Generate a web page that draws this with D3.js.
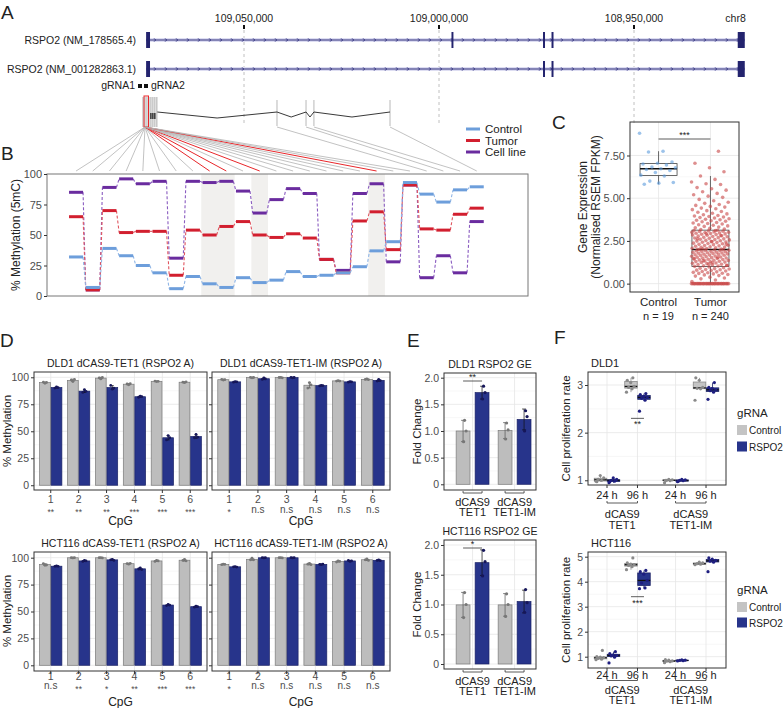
<!DOCTYPE html>
<html>
<head>
<meta charset="utf-8">
<script src="https://cdn.jsdelivr.net/npm/d3@7"></script>
<style>
  body { margin: 0; background: #fff; }
  svg { font-family: "Liberation Sans", Arial, sans-serif; }
</style>
</head>
<body>
<div id="fig"></div>
<script>
// ---------------- data ----------------
// A: gene tracks (genomic coordinates, bp)
const genomeTicks = [109050000, 109000000, 108950000];
const trackNames = ["RSPO2 (NM_178565.4)", "RSPO2 (NM_001282863.1)"];
const trackSpan = [109075100, 108921600];
const exons1 = [[109075100, 109074100], [108996800, 108996300], [108973330, 108972820], [108971150, 108970640], [108923400, 108921600]];
const exons2 = [[109075100, 109074100], [108973330, 108972820], [108971150, 108970640], [108923400, 108921600]];

// B: % methylation per CpG
const cpgControl  = [32, 7, 39, 33, 25, 19, 6, 16, 10, 7, 15, 11, 13, 20, 16, 17, 19, 24, 37, 44.5, 93, 83.5, 77, 87, 89.5];
const cpgTumor    = [65, 5, 70, 52, 53, 53, 17, 54, 50, 57, 61, 50, 48, 51, 47.5, 30, 19, 61.5, 69, 38, 91, 55, 54, 67, 72];
const cpgCellLine = [85, 5, 89, 96, 92, 94, 31, 94, 93, 94, 86, 68, 79, 88, 84, 30, 21, 84, 92, 28, 91, 15, 33, 19, 61];
const cpgHighlight = [9, 10, 12, 19];           // 1-based CpG numbers
const cpgExon = [0,0,0,0,0,0,0,0,0,0,0,0,0,0,0,0,0,0,0,0,0,1,2,3,4]; // schematic exon of each CpG

// C: expression
const exprControl = [8.8, 7.75, 7.7, 7.12, 7.05, 7.0, 6.95, 6.82, 6.78, 6.72, 6.68, 6.62, 6.5, 6.35, 6.3, 6.0, 5.92, 5.88, 5.82];
const exprTumor = [
  0,0,0,0,0,0,0,0,0,0, 0,0,0,0,0,0,0,0,0,0, 0,0,0,0,0,0,0,0,0,0, 0,0,0,0,
  0.12,0.21,0.28,0.33,0.38,0.44,0.47,0.51,0.53,0.57,0.6,0.61,0.64,0.66,0.69,0.71,0.74,0.77,0.79,0.81,0.83,0.86,0.88,0.9,0.93,0.97,
  1.01,1.03,1.04,1.08,1.1,1.11,1.13,1.17,1.19,1.21,1.24,1.26,1.28,1.29,1.31,1.33,1.36,1.37,1.39,1.41,
  1.43,1.45,1.47,1.49,1.5,1.52,1.55,1.56,1.58,1.6,1.61,1.64,1.66,1.67,1.69,1.71,1.72,1.74,1.76,1.78,
  1.79,1.81,1.83,1.84,1.86,1.87,1.89,1.91,1.92,1.94,1.95,1.97,1.98,1.99,1.14,1.46,1.53,1.34,1.06,1.22,
  2.01,2.03,2.05,2.07,2.1,2.12,2.14,2.16,2.19,2.21,2.23,2.25,2.28,2.3,2.33,2.35,2.37,2.4,2.42,2.44,
  2.46,2.49,2.51,2.53,2.56,2.58,2.6,2.62,2.65,2.67,2.69,2.71,2.74,2.76,2.78,2.8,2.83,2.85,2.87,2.89,
  2.91,2.93,2.95,2.97,2.99,3.01,3.03,3.05,3.07,3.09,3.11,3.12,2.04,2.31,2.47,2.63,2.81,2.92,3.0,3.1,
  3.16,3.2,3.24,3.27,3.31,3.35,3.38,3.42,3.45,3.49,3.52,3.55,3.58,3.62,3.65,3.68,3.71,3.74,3.77,3.8,3.84,3.87,3.9,3.93,3.96,3.99,
  4.03,4.08,4.12,4.18,4.22,4.27,4.33,4.38,4.42,4.48,4.52,4.58,4.63,4.7,4.76,4.85,4.93,
  5.05,5.12,5.2,5.28,5.38,5.47,5.55,5.62,5.8,5.85,5.95,6.1,6.3,
  6.55,6.78,7.05,7.75
];

// D: % methylation, 3 replicates per CpG (1..6)
const cpgNums = [1, 2, 3, 4, 5, 6];
const dldTetCtrl = [[95.5,94.5,95.2],[97.5,96,98],[99.5,98.5,99.8],[93.8,93,94],[96.5,96,96.3],[95.5,95,95.8]];
const dldTetRspo = [[90,91,90.5],[86,88.5,87],[92.5,89,90],[81.5,82.5,82],[42,46,44],[44,47,44.5]];
const dldTetSig  = ["**","**","**","***","***","***"];
const dldImCtrl  = [[98,97.5,97.8],[100,99.5,99.8],[99.8,100,99.5],[90,95,93],[96.5,97,96.5],[98,98.5,97.8]];
const dldImRspo  = [[95.5,96,95.8],[98,99.5,98.5],[100,99.5,99.8],[92,92.5,92.3],[95.5,96,95.8],[96.5,98,97]];
const dldImSig   = ["*","n.s","n.s","n.s","n.s","n.s"];
const hctTetCtrl = [[94.5,93,93.2],[100,99.8,100],[100,100,99.8],[94.5,94,94.8],[96.5,97.5,97],[97.5,98.5,97]];
const hctTetRspo = [[92,92.3,92],[96.5,97.5,97],[98,98.5,97.5],[89.5,90.5,89],[55.5,56.5,56],[54,55,54.5]];
const hctTetSig  = ["n.s","**","*","**","***","***"];
const hctImCtrl  = [[93.5,94,93.8],[98,99.5,98],[100,100,99.8],[94,94.8,93.5],[96,97,96.5],[98,98.8,97.5]];
const hctImRspo  = [[91.5,91.8,91.3],[100,99.8,100],[100,99.8,100],[93.8,93.5,94],[97.5,96.5,97],[97.5,98,97.2]];
const hctImSig   = ["*","n.s","n.s","n.s","n.s","n.s"];

// E: fold change, 3 replicates (dCAS9-TET1, dCAS9-TET1-IM)
const constructs = ["TET1", "TET1-IM"];
const dldGeCtrl = [[1.2, 1.0, 0.8], [1.15, 1.02, 0.85]];
const dldGeRspo = [[1.84, 1.72, 1.6], [1.38, 1.27, 1.0]];
const hctGeCtrl = [[1.2, 1.0, 0.78], [1.18, 1.0, 0.8]];
const hctGeRspo = [[1.91, 1.72, 1.48], [1.25, 1.03, 0.87]];

// F: cell proliferation rate (groups: 24 h / 96 h for TET1, then TET1-IM)
const timeLabels = ["24 h", "96 h", "24 h", "96 h"];
const dldProCtrl = [[0.98,1.0,1.02,1.05,1.1,0.97],[2.85,2.92,2.95,2.97,3.05,3.1,3.15],[0.95,0.99,1.0,1.01,1.02,1.0],[2.68,2.92,2.93,2.95,3.1,3.15]];
const dldProRspo = [[0.95,0.98,1.0,1.02,1.05,0.97,1.0],[2.45,2.68,2.72,2.74,2.76,2.8,2.82],[0.97,0.99,1.0,1.01,1.02,0.98],[2.7,2.85,2.88,2.9,2.93,2.95,3.05]];
const hctProCtrl = [[0.88,0.9,0.93,0.96,0.98,1.0,1.25],[4.48,4.6,4.65,4.68,4.7,4.75,4.95],[0.76,0.8,0.82,0.83,0.86,0.88],[4.68,4.7,4.72,4.75,4.78]];
const hctProRspo = [[0.75,0.98,1.03,1.05,1.07,1.12,1.2],[3.72,3.75,3.95,4.05,4.3,4.4,4.45],[0.83,0.84,0.85,0.86,0.87],[4.4,4.78,4.82,4.85,4.9,4.95]];

// ---------------- helpers ----------------
const GRAY = "#bdbdbd", BLUE = "#27348b";
const svg = d3.select("#fig").append("svg").attr("width", 784).attr("height", 708);

function txt(g, x, y, s, size, anchor, color) {
  return g.append("text").attr("x", x).attr("y", y).text(s)
    .style("font-size", size + "px").attr("text-anchor", anchor || "start")
    .attr("fill", color || "#222");
}
function vlabel(g, x, y, s, size) {
  return g.append("text").attr("transform", `translate(${x},${y}) rotate(-90)`)
    .attr("text-anchor", "middle").style("font-size", size + "px").attr("fill", "#222").text(s);
}
function styleAxis(sel, size) {
  sel.select(".domain").remove();
  sel.selectAll(".tick line").attr("stroke", "#333");
  sel.selectAll(".tick text").attr("fill", "#4d4d4d").style("font-size", size + "px");
}
function grid(g, x, y, yTicks, xTicks) {
  const [x0, x1] = x.range(), [y0, y1] = y.range();
  const mids = d3.pairs(yTicks).map(p => (p[0] + p[1]) / 2);
  g.selectAll(null).data(mids).join("line")
    .attr("x1", x0).attr("x2", x1).attr("y1", d => y(d)).attr("y2", d => y(d))
    .attr("stroke", "#f2f2f2").attr("stroke-width", 0.6);
  g.selectAll(null).data(yTicks).join("line")
    .attr("x1", x0).attr("x2", x1).attr("y1", d => y(d)).attr("y2", d => y(d))
    .attr("stroke", "#e6e6e6").attr("stroke-width", 0.8);
  if (xTicks) g.selectAll(null).data(xTicks).join("line")
    .attr("x1", d => d).attr("x2", d => d).attr("y1", y0).attr("y2", y1)
    .attr("stroke", "#e6e6e6").attr("stroke-width", 0.8);
}
function frame(g, x, y, color) {
  const [x0, x1] = x.range(), [y0, y1] = y.range();
  g.append("rect").attr("x", x0).attr("y", y1).attr("width", x1 - x0).attr("height", y0 - y1)
    .attr("fill", "none").attr("stroke", color || "#333").attr("stroke-width", 1);
}

// ---------------- A: gene tracks ----------------
const gA = svg.append("g");
txt(gA, 1, 19, "A", 19);
const gx = d3.scaleLinear().domain([109050000, 108950000]).range([244, 634]);
genomeTicks.forEach(t => {
  txt(gA, gx(t), 22, d3.format(",")(t), 10.5, "middle");
  gA.append("rect").attr("x", gx(t) - 1).attr("y", 25).attr("width", 2).attr("height", 4).attr("fill", "#111");
  gA.append("line").attr("x1", gx(t)).attr("x2", gx(t)).attr("y1", 30).attr("y2", 126)
    .attr("stroke", "#b0b0b0").attr("stroke-dasharray", "3,3").attr("stroke-width", 0.8);
});
txt(gA, gx(trackSpan[1]) + 1, 22, "chr8", 10.5, "end");

[exons1, exons2].forEach((ex, k) => {
  const yy = [40, 69][k];
  txt(gA, 136, yy + 3.5, trackNames[k], 10.5, "end");
  gA.append("rect").attr("x", gx(trackSpan[0])).attr("y", yy - 2)
    .attr("width", gx(trackSpan[1]) - gx(trackSpan[0])).attr("height", 4).attr("fill", "#dedef2");
  gA.append("line").attr("x1", gx(trackSpan[0])).attr("x2", gx(trackSpan[1])).attr("y1", yy).attr("y2", yy)
    .attr("stroke", "#2b2b7a").attr("stroke-width", 1.1);
  gA.selectAll(null).data(d3.range(gx(trackSpan[0]) + 9, gx(trackSpan[1]) - 4, 11)).join("path")
    .attr("d", d => `M${d - 1},${yy - 1.6}L${d + 0.6},${yy}L${d - 1},${yy + 1.6}`)
    .attr("fill", "none").attr("stroke", "#2b2b7a").attr("stroke-width", 0.9);
  gA.selectAll(null).data(ex).join("rect")
    .attr("x", d => gx(d[0])).attr("width", d => Math.max(1.6, gx(d[1]) - gx(d[0])))
    .attr("y", yy - 8).attr("height", 16).attr("fill", "#23236e");
});
txt(gA, 135, 89, "gRNA1", 10.5, "end");
gA.append("rect").attr("x", 138).attr("y", 84).attr("width", 4).attr("height", 4).attr("fill", "#111");
gA.append("rect").attr("x", 144).attr("y", 84).attr("width", 4).attr("height", 4).attr("fill", "#111");
txt(gA, 151, 89, "gRNA2", 10.5);

// schematic of the CpG region + fan lines to panel B
const sx = d3.scaleLinear().domain([0, 1]).range([143, 390]);
const exonAnchors = [0.008, 0.5425, 0.66, 0.692, 1.0];
d3.range(0, 0.06, 0.008).forEach(v => {
  gA.append("line").attr("x1", sx(v)).attr("x2", sx(v)).attr("y1", 97).attr("y2", 127)
    .attr("stroke", "#b8b8b8").attr("stroke-width", 1.2);
});
exonAnchors.slice(1).forEach(v => {
  gA.append("line").attr("x1", sx(v)).attr("x2", sx(v)).attr("y1", 100).attr("y2", 126)
    .attr("stroke", "#b8b8b8").attr("stroke-width", 1);
});
[0.032, 0.040, 0.048].forEach(v => {
  gA.append("line").attr("x1", sx(v)).attr("x2", sx(v)).attr("y1", 113).attr("y2", 119)
    .attr("stroke", "#111").attr("stroke-width", 1.2);
});
gA.append("path")
  .attr("d", `M${sx(0.058)},112L${sx(0.3)},118L${sx(0.5425)},112L${sx(0.6)},117L${sx(0.66)},112L${sx(0.676)},117L${sx(0.692)},112L${sx(0.846)},117L${sx(1)},112`)
  .attr("fill", "none").attr("stroke", "#222").attr("stroke-width", 0.9);
gA.append("rect").attr("x", 144).attr("y", 96).attr("width", 4.5).attr("height", 31)
  .attr("fill", "none").attr("stroke", "#e8262a").attr("stroke-width", 1);

// ---------------- B: methylation profile ----------------
const gB = svg.append("g");
txt(gB, 1, 160, "B", 19);
const bx = d3.scaleLinear().domain([-1.74, 27.07]).range([47, 528]);
const by = d3.scaleLinear().domain([0, 100]).range([296, 174]);

// fan lines
cpgControl.forEach((_, i) => {
  const hi = cpgHighlight.includes(i + 1);
  const ox = cpgExon[i] === 0 ? 145 : sx(exonAnchors[cpgExon[i]]);
  gA.append("line").attr("x1", ox).attr("y1", 127).attr("x2", bx(i)).attr("y2", 171)
    .attr("stroke", hi ? "#e8262a" : "#b3b3b3").attr("stroke-width", hi ? 1 : 0.8);
});

cpgHighlight.forEach(c => {
  gB.append("rect").attr("x", bx(c - 1.5)).attr("width", bx(c - 0.5) - bx(c - 1.5))
    .attr("y", 174).attr("height", 122).attr("fill", "#f1f0ee");
});
gB.append("rect").attr("x", 47).attr("y", 174).attr("width", 481).attr("height", 122)
  .attr("fill", "none").attr("stroke", "#777").attr("stroke-width", 1);
const ayB = gB.append("g").attr("transform", "translate(47,0)")
  .call(d3.axisLeft(by).tickValues([0, 25, 50, 75, 100]).tickSize(3).tickPadding(2));
styleAxis(ayB, 11);
vlabel(gB, 20, 235, "% Methylation (5mC)", 12);

const seriesB = [
  { vals: cpgCellLine, color: "#6a2c9f", light: "#8a5cc0" },
  { vals: cpgTumor, color: "#d21f2f", light: "#e0555f" },
  { vals: cpgControl, color: "#6d9edb", light: "#8fb5e6" }
];
const hw = 0.42;
seriesB.forEach(s => {
  gB.selectAll(null).data(d3.pairs(s.vals.map((v, i) => [i, v]))).join("line")
    .attr("x1", d => bx(d[0][0] + hw)).attr("y1", d => by(d[0][1]))
    .attr("x2", d => bx(d[1][0] - hw)).attr("y2", d => by(d[1][1]))
    .attr("stroke", s.light).attr("stroke-width", 1.1).attr("stroke-dasharray", "3,2");
  gB.selectAll(null).data(s.vals).join("line")
    .attr("x1", (d, i) => bx(i - hw)).attr("x2", (d, i) => bx(i + hw))
    .attr("y1", d => by(d)).attr("y2", d => by(d))
    .attr("stroke", s.color).attr("stroke-width", 3);
});
[["Control", "#6d9edb"], ["Tumor", "#d21f2f"], ["Cell line", "#6a2c9f"]].forEach((d, i) => {
  const yy = 129 + i * 11.5;
  gB.append("line").attr("x1", 466).attr("x2", 480).attr("y1", yy).attr("y2", yy)
    .attr("stroke", d[1]).attr("stroke-width", 3);
  txt(gB, 485, yy + 4, d[0], 11.5);
});

// ---------------- C: expression boxplot ----------------
const gC = svg.append("g");
txt(gC, 552, 129, "C", 19);
const cx = d3.scalePoint().domain(["Control", "Tumor"]).range([630, 739]).padding(0.55);
const cy = d3.scaleLinear().domain([-0.49, 9.46]).range([292, 122]);
grid(gC, cx, cy, [0, 2.5, 5, 7.5], [cx("Control"), cx("Tumor")]);
frame(gC, cx, cy);
const ayC = gC.append("g").attr("transform", "translate(630,0)")
  .call(d3.axisLeft(cy).tickValues([0, 2.5, 5, 7.5]).tickFormat(d3.format(".2f")).tickSize(3).tickPadding(2));
styleAxis(ayC, 11);
["Control", "Tumor"].forEach(c => {
  txt(gC, cx(c), 306, c, 11.5, "middle");
});
txt(gC, cx("Control"), 320, "n = " + exprControl.length, 11, "middle");
txt(gC, cx("Tumor"), 320, "n = " + exprTumor.length, 11, "middle");
vlabel(gC, 587, 207, "Gene Expression", 12);
vlabel(gC, 600, 207, "(Normalised RSEM FPKM)", 12);

function boxStats(vals) {
  const s = vals.slice().sort(d3.ascending);
  const q1 = d3.quantile(s, 0.25), med = d3.quantile(s, 0.5), q3 = d3.quantile(s, 0.75);
  const iqr = q3 - q1;
  const lo = d3.min(s.filter(v => v >= q1 - 1.5 * iqr)), hi = d3.max(s.filter(v => v <= q3 + 1.5 * iqr));
  return { q1, med, q3, lo, hi };
}
function drawBox(g, xc, w, st, y, fill, stroke, medW) {
  g.append("line").attr("x1", xc).attr("x2", xc).attr("y1", y(st.hi)).attr("y2", y(st.q3)).attr("stroke", stroke).attr("stroke-width", 0.8);
  g.append("line").attr("x1", xc).attr("x2", xc).attr("y1", y(st.q1)).attr("y2", y(st.lo)).attr("stroke", stroke).attr("stroke-width", 0.8);
  g.append("rect").attr("x", xc - w / 2).attr("width", w).attr("y", y(st.q3)).attr("height", y(st.q1) - y(st.q3))
    .attr("fill", fill).attr("stroke", stroke).attr("stroke-width", 0.8);
  g.append("line").attr("x1", xc - w / 2).attr("x2", xc + w / 2).attr("y1", y(st.med)).attr("y2", y(st.med))
    .attr("stroke", "#111").attr("stroke-width", medW || 1.6);
}
[["Control", exprControl, "#5b9bdc"], ["Tumor", exprTumor, "#c84444"]].forEach(([c, vals, col]) => {
  const st = boxStats(vals);
  drawBox(gC, cx(c), 37, st, cy, "none", "#444", 1.6);
  gC.selectAll(null).data(vals).join("circle")
    .attr("cx", (d, i) => cx(c) + (((i * 0.6180339) % 1) - 0.5) * 38)
    .attr("cy", d => cy(d)).attr("r", 1.8).attr("fill", col).attr("fill-opacity", 0.6);
});
gC.append("line").attr("x1", cx("Control")).attr("x2", cx("Tumor")).attr("y1", 139).attr("y2", 139)
  .attr("stroke", "#333").attr("stroke-width", 0.8);
txt(gC, (cx("Control") + cx("Tumor")) / 2, 138, "***", 9, "middle");

// ---------------- D: targeted demethylation bars ----------------
const gD = svg.append("g");
txt(gD, 0, 347, "D", 19);
function sd(a) { return d3.deviation(a) || 0; }
function methPanel(x0, x1, y0, y1, dom, title, ctrl, rspo, sig, showY, off) {
  const g = gD.append("g");
  const x = d3.scalePoint().domain(cpgNums).range([x0, x1]).padding(0.6);
  const y = d3.scaleLinear().domain(dom).range([y1, y0]);
  const step = x.step(), bw = step * 0.385;
  grid(g, x, y, [0, 25, 50, 75, 100], cpgNums.map(c => x(c)));
  [[ctrl, GRAY, "#7a7a7a", -1, "#777"], [rspo, BLUE, "#1c2366", 1, "#16165a"]].forEach(([reps, fill, stroke, side, dot]) => {
    reps.forEach((r, i) => {
      const m = d3.mean(r), e = sd(r), xc = x(cpgNums[i]) + side * (bw / 2 + 0.4);
      g.append("rect").attr("x", xc - bw / 2).attr("width", bw).attr("y", y(m)).attr("height", y(0) - y(m))
        .attr("fill", fill).attr("stroke", stroke).attr("stroke-width", 0.7);
      g.append("path").attr("d", `M${xc - 1.5},${y(m + e)}H${xc + 1.5}M${xc},${y(m + e)}V${y(m - e)}M${xc - 1.5},${y(m - e)}H${xc + 1.5}`)
        .attr("stroke", side < 0 ? "#555" : "#111").attr("stroke-width", 0.7).attr("fill", "none");
      g.selectAll(null).data(r).join("circle")
        .attr("cx", (d, j) => xc + (j - 1) * 1.6).attr("cy", d => y(d)).attr("r", 1.4).attr("fill", dot);
    });
  });
  frame(g, x, y);
  const ay = g.append("g").attr("transform", `translate(${x0},0)`)
    .call(d3.axisLeft(y).tickValues([0, 25, 50, 75, 100]).tickSize(3).tickPadding(2).tickFormat(showY ? d3.format("d") : ""));
  styleAxis(ay, 10.5);
  cpgNums.forEach((c, i) => {
    txt(g, x(c), y1 + off[0], c, 10.5, "middle", "#4d4d4d");
    const ns = sig[i] === "n.s";
    txt(g, x(c), y1 + (ns ? off[1] : off[1] + 2.5), sig[i], ns ? 10 : 8.5, "middle", "#4d4d4d");
    g.append("line").attr("x1", x(c)).attr("x2", x(c)).attr("y1", y1).attr("y2", y1 + 3).attr("stroke", "#333");
  });
  txt(g, (x0 + x1) / 2, y0 - 5, title, 10.5, "middle");
  txt(g, (x0 + x1) / 2, y1 + 34.5, "CpG", 12, "middle");
}
methPanel(34, 207, 372, 490, [-4.4, 104.9], "DLD1 dCAS9-TET1 (RSPO2 A)", dldTetCtrl, dldTetRspo, dldTetSig, true, [12.5, 22.5]);
methPanel(212, 390, 372, 490, [-4.4, 104.9], "DLD1 dCAS9-TET1-IM (RSPO2 A)", dldImCtrl, dldImRspo, dldImSig, false, [12.5, 22.5]);
methPanel(34, 207, 552, 671, [-5.3, 105.3], "HCT116 dCAS9-TET1 (RSPO2 A)", hctTetCtrl, hctTetRspo, hctTetSig, true, [8.5, 18]);
methPanel(212, 390, 552, 671, [-5.3, 105.3], "HCT116 dCAS9-TET1-IM (RSPO2 A)", hctImCtrl, hctImRspo, hctImSig, false, [8.5, 18]);
vlabel(gD, 11, 431, "% Methylation", 11.5);
vlabel(gD, 11, 611, "% Methylation", 11.5);

// ---------------- E: fold change ----------------
const gE = svg.append("g");
txt(gE, 407, 347, "E", 19);
function gePanel(y0, y1, dom, title, ctrl, rspo, sig) {
  const g = gE.append("g");
  const x = d3.scaleLinear().domain([0.32, 2.51]).range([444, 536]);
  const y = d3.scaleLinear().domain(dom).range([y1, y0]);
  const pos = [1, 2], bw = 0.33, off = 0.226;
  grid(g, x, y, [0, 0.5, 1, 1.5, 2], pos.map(p => x(p)));
  [[ctrl, GRAY, "#7a7a7a", -1, "#777"], [rspo, BLUE, "#1c2366", 1, "#16165a"]].forEach(([reps, fill, stroke, side, dot]) => {
    reps.forEach((r, i) => {
      const m = d3.mean(r), e = sd(r), xc = x(pos[i] + side * off), w = x(bw) - x(0);
      g.append("rect").attr("x", xc - w / 2).attr("width", w).attr("y", y(m)).attr("height", y(0) - y(m))
        .attr("fill", fill).attr("stroke", stroke).attr("stroke-width", 0.7);
      g.append("path").attr("d", `M${xc - 2},${y(m + e)}H${xc + 2}M${xc},${y(m + e)}V${y(m - e)}M${xc - 2},${y(m - e)}H${xc + 2}`)
        .attr("stroke", side < 0 ? "#555" : "#111").attr("stroke-width", 0.7).attr("fill", "none");
      g.selectAll(null).data(r).join("circle")
        .attr("cx", (d, j) => xc + [1.5, 3, 0.5][j]).attr("cy", d => y(d)).attr("r", 1.6).attr("fill", dot);
    });
  });
  frame(g, x, y);
  const ay = g.append("g").attr("transform", "translate(444,0)")
    .call(d3.axisLeft(y).tickValues([0, 0.5, 1, 1.5, 2]).tickSize(3).tickPadding(2)
      .tickFormat(d => d === 0 ? "0" : d3.format(".1f")(d)));
  styleAxis(ay, 10.5);
  pos.forEach((p, i) => {
    const a = x(p - off), b = x(p + off);
    g.append("path").attr("d", `M${a},${y1 + 1}V${y1 + 3}H${b}V${y1 + 1}`).attr("fill", "none").attr("stroke", "#333").attr("stroke-width", 0.8);
    txt(g, x(p), y1 + 15.5, "dCAS9", 11, "middle");
    txt(g, x(p), y1 + 26, constructs[i], 11, "middle");
  });
  g.append("line").attr("x1", x(1 - off)).attr("x2", x(1 + off)).attr("y1", y0 + 8).attr("y2", y0 + 8).attr("stroke", "#333").attr("stroke-width", 0.8);
  txt(g, x(1), y0 + 7, sig, 9, "middle");
  txt(g, 490, y0 - 5, title, 10.5, "middle");
  vlabel(g, 421, (y0 + y1) / 2, "Fold Change", 11.5);
}
gePanel(373, 490, [-0.107, 2.088], "DLD1 RSPO2 GE", dldGeCtrl, dldGeRspo, "**");
gePanel(540, 669, [-0.084, 2.084], "HCT116 RSPO2 GE", hctGeCtrl, hctGeRspo, "*");

// ---------------- F: proliferation ----------------
const gF = svg.append("g");
txt(gF, 554, 344, "F", 19);
function proPanel(y0, y1, dom, ticks, title, ctrl, rspo, sig, sigY, legY, off, legStep) {
  const g = gF.append("g");
  const x = d3.scaleLinear().domain([0.376, 4.906]).range([588, 726]);
  const pos = [1, 2, 3.25, 4.25];
  const y = d3.scaleLinear().domain(dom).range([y1, y0]);
  grid(g, x, y, ticks, pos.map(p => x(p)));
  [[ctrl, "#c4c4c4", "#8a8a8a", -1, "#8a8a8a"], [rspo, BLUE, "#1c2366", 1, "#1e1e80"]].forEach(([groups, fill, stroke, side, dot]) => {
    groups.forEach((vals, i) => {
      const xc = x(pos[i]) + side * 6.5;
      drawBox(g, xc, 12.5, boxStats(vals), y, fill, stroke, 1.3);
      g.selectAll(null).data(vals).join("circle")
        .attr("cx", (d, j) => xc + (((j * 0.6180339) % 1) - 0.5) * 9).attr("cy", d => y(d))
        .attr("r", 1.6).attr("fill", dot);
    });
  });
  frame(g, x, y);
  const ay = g.append("g").attr("transform", "translate(588,0)")
    .call(d3.axisLeft(y).tickValues(ticks).tickSize(3).tickPadding(2).tickFormat(d3.format("d")));
  styleAxis(ay, 10.5);
  pos.forEach((p, i) => {
    g.append("line").attr("x1", x(p)).attr("x2", x(p)).attr("y1", y1).attr("y2", y1 + 3).attr("stroke", "#333");
    txt(g, x(p), y1 + off[0], timeLabels[i], 11, "middle");
  });
  [[1, 2, "TET1"], [3.25, 4.25, "TET1-IM"]].forEach(([a, b, lab]) => {
    g.append("path").attr("d", `M${x(a)},${y1 + off[1] - 2}V${y1 + off[1]}H${x(b)}V${y1 + off[1] - 2}`).attr("fill", "none").attr("stroke", "#333").attr("stroke-width", 0.8);
    txt(g, (x(a) + x(b)) / 2, y1 + off[2], "dCAS9", 11, "middle");
    txt(g, (x(a) + x(b)) / 2, y1 + off[3], lab, 11, "middle");
  });
  g.append("line").attr("x1", x(2) - 6.5).attr("x2", x(2) + 6.5).attr("y1", y(sigY)).attr("y2", y(sigY)).attr("stroke", "#333").attr("stroke-width", 0.8);
  txt(g, x(2), y(sigY) + 9, sig, 9, "middle");
  txt(g, 591, y0 - 5, title, 11);
  vlabel(g, 570, (y0 + y1) / 2, "Cell proliferation rate", 11.5);
  txt(g, 737, legY, "gRNA", 11.5);
  [["Control", "#c4c4c4"], ["RSPO2", BLUE]].forEach((d, i) => {
    g.append("rect").attr("x", 737).attr("y", legY + 8 + i * legStep).attr("width", 10).attr("height", 10).attr("fill", d[1]);
    txt(g, 749, legY + 17 + i * legStep, d[0], 10);
  });
}
proPanel(372, 485, [0.901, 3.273], [1, 2, 3], "DLD1", dldProCtrl, dldProRspo, "**", 2.3, 417, [14, 18, 33, 44], 16.5);
proPanel(552, 668, [0.548, 5.188], [1, 2, 3, 4, 5], "HCT116", hctProCtrl, hctProRspo, "***", 3.4, 594, [10.5, 12.5, 25.5, 35.5], 15.5);
</script>
</body>
</html>
